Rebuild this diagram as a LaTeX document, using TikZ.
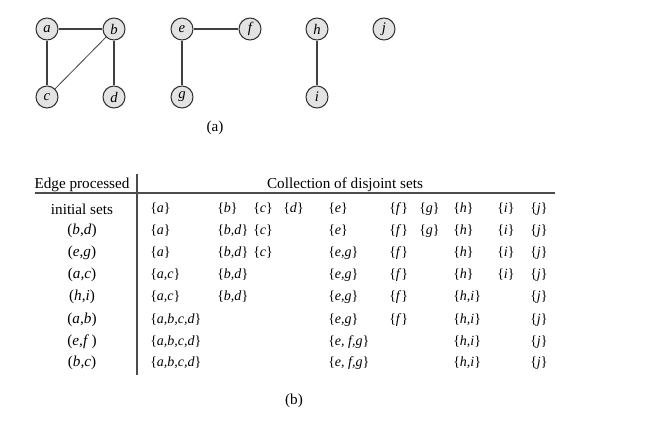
\documentclass[tikz,border=0pt]{standalone}
\usepackage{fontspec}
\setmainfont{Liberation Serif}
\newcommand\sset[1]{\{\textit{#1}\}}

\begin{document}
\begin{tikzpicture}[x=0.75pt,y=-0.75pt,font=\fontsize{11.4}{13}\selectfont]
\tikzset{vtx/.style={circle,draw=black!80,line width=0.8pt,fill=gray!22,minimum size=16.5pt,inner sep=0pt,font=\fontsize{11}{13}\selectfont\itshape},
  gedge/.style={draw=black!75,line width=1pt},
  cell/.style={anchor=west,inner sep=0pt,font=\fontsize{10.5}{12}\selectfont},
  rule/.style={draw=black!70,line width=0.8pt}}
\useasboundingbox (0,0) rectangle (654,436);
% (a) the graph
\node[vtx] (a) at (47,29) {a};
\node[vtx] (b) at (114,29) {b};
\node[vtx] (c) at (47,97) {c};
\node[vtx] (d) at (114,97) {d};
\node[vtx] (e) at (182,29) {e};
\node[vtx] (f) at (250,29) {f};
\node[vtx] (g) at (182,97) {g};
\node[vtx] (h) at (317,29) {h};
\node[vtx] (i) at (317,97) {i};
\node[vtx] (j) at (384,29) {j};
\draw[gedge] (a) -- (b);
\draw[gedge] (a) -- (c);
\draw[gedge] (b) -- (d);
\draw[gedge,line width=0.6pt] (b) -- (c);
\draw[gedge] (e) -- (f);
\draw[gedge] (e) -- (g);
\draw[gedge] (h) -- (i);
\node (capa) at (215,128) {(a)};
% (b) the table
\node (hedge) at (82,185) {Edge processed};
\node (hsets) at (345,185) {Collection of disjoint sets};
\coordinate (rl) at (35,193);
\coordinate (rr) at (555,193);
\coordinate (vt) at (137,174);
\coordinate (vb) at (137,375);
\draw[rule] (rl) -- (rr);
\draw[rule] (vt) -- (vb);
\foreach \y/\t [count=\k] in {209/{initial sets}, 231/{(\textit{b},\textit{d})}, 253/{(\textit{e},\textit{g})},
  275/{(\textit{a},\textit{c})}, 297/{(\textit{h},\textit{i})}, 320/{(\textit{a},\textit{b})},
  342/{(\textit{e},\textit{f}\,)}, 363/{(\textit{b},\textit{c})}}
  \node (ep\k) at (82,\y) {\t};
\foreach \x/\s [count=\k] in {150/a, 217/b, 253/c, 283/d, 328/e, 389/f, 419/g, 453/h, 497/i, 530/j}
  \node[cell] (r1-\k) at (\x,209) {\sset{\s}};
\foreach \x/\s [count=\k] in {150/a, 217/{b,d}, 253/c, 328/e, 389/f, 419/g, 453/h, 497/i, 530/j}
  \node[cell] (r2-\k) at (\x,231) {\sset{\s}};
\foreach \x/\s [count=\k] in {150/a, 217/{b,d}, 253/c, 328/{e,g}, 389/f, 453/h, 497/i, 530/j}
  \node[cell] (r3-\k) at (\x,253) {\sset{\s}};
\foreach \x/\s [count=\k] in {150/{a,c}, 217/{b,d}, 328/{e,g}, 389/f, 453/h, 497/i, 530/j}
  \node[cell] (r4-\k) at (\x,275) {\sset{\s}};
\foreach \x/\s [count=\k] in {150/{a,c}, 217/{b,d}, 328/{e,g}, 389/f, 453/{h,i}, 530/j}
  \node[cell] (r5-\k) at (\x,297) {\sset{\s}};
\foreach \x/\s [count=\k] in {150/{a,b,c,d}, 328/{e,g}, 389/f, 453/{h,i}, 530/j}
  \node[cell] (r6-\k) at (\x,320) {\sset{\s}};
\foreach \x/\s [count=\k] in {150/{a,b,c,d}, 328/{e, f,g}, 453/{h,i}, 530/j}
  \node[cell] (r7-\k) at (\x,342) {\sset{\s}};
\foreach \x/\s [count=\k] in {150/{a,b,c,d}, 328/{e, f,g}, 453/{h,i}, 530/j}
  \node[cell] (r8-\k) at (\x,363) {\sset{\s}};
\node (capb) at (294,401) {(b)};
\end{tikzpicture}
\end{document}
